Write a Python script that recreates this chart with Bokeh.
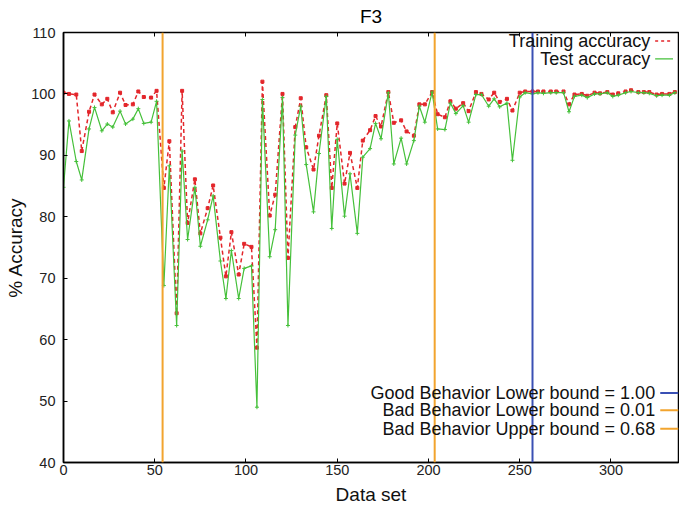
from bokeh.plotting import figure
from bokeh.models import Span, Label, Arrow, LinearAxis, Range1d, FixedTicker, CustomLabelingPolicy
from bokeh.embed import file_html
from bokeh.resources import INLINE

# ---- data ----
x_vals = [
    0, 3, 7, 10, 14, 17, 21, 24, 27, 31,
    34, 38, 41, 44, 48, 51, 55, 58, 62, 65,
    68, 72, 75, 79, 82, 86, 89, 92, 96, 99,
    103, 106, 109, 113, 116, 120, 123, 127, 130, 133,
    137, 140, 144, 147, 150, 154, 157, 161, 164, 168,
    171, 174, 178, 181, 185, 188, 192, 195, 198, 202,
    205, 209, 212, 215, 219, 222, 226, 229, 233, 236,
    239, 243, 246, 250, 253, 257, 260, 263, 267, 270,
    274, 277, 280, 284, 287, 291, 294, 298, 301, 304,
    308, 311, 315, 318, 321, 325, 328, 332, 335,
]
train_acc = [
    100.2, 100.0, 99.9, 90.7, 97.1, 99.9, 98.3, 99.2, 97.0, 100.2,
    98.2, 98.3, 100.4, 99.5, 99.4, 100.5, 84.7, 92.3, 64.3, 100.5,
    79.0, 86.1, 77.3, 81.4, 85.1, 76.6, 70.3, 77.5, 70.6, 75.6,
    75.1, 58.7, 102.0, 80.2, 83.6, 100.0, 73.3, 94.6, 99.3, 91.3,
    87.7, 93.2, 99.8, 84.7, 95.2, 85.4, 90.4, 84.7, 92.4, 94.1,
    96.4, 94.7, 100.3, 95.3, 95.7, 93.9, 93.2, 98.3, 98.3, 100.3,
    96.7, 96.2, 98.8, 97.6, 98.5, 97.2, 100.3, 100.0, 99.1, 100.2,
    98.7, 99.2, 97.3, 100.2, 100.4, 100.4, 100.4, 100.4, 100.4, 100.4,
    100.4, 98.3, 99.9, 100.0, 99.7, 100.2, 100.1, 100.3, 99.9, 100.1,
    100.4, 100.6, 100.3, 100.3, 100.3, 99.9, 100.0, 100.0, 100.3,
]
test_acc = [
    84.8, 95.6, 89.0, 86.0, 94.3, 97.8, 94.0, 95.1, 94.6, 97.2,
    95.1, 95.9, 97.6, 95.2, 95.4, 98.8, 68.8, 88.3, 62.3, 90.7,
    76.3, 84.8, 75.2, 79.5, 83.4, 72.8, 66.7, 74.5, 66.7, 71.6,
    72.0, 49.0, 99.1, 73.5, 77.9, 99.4, 62.3, 93.3, 98.0, 88.5,
    80.8, 90.3, 99.6, 78.1, 92.6, 80.1, 87.0, 77.3, 89.7, 91.1,
    95.2, 92.7, 100.2, 88.6, 92.8, 88.6, 92.4, 98.0, 95.4, 100.3,
    94.3, 94.2, 98.5, 96.8, 98.1, 95.4, 99.9, 99.9, 98.0, 99.2,
    97.9, 98.5, 89.2, 99.5, 100.2, 100.0, 100.2, 100.1, 100.2, 100.2,
    100.2, 97.1, 99.6, 99.8, 99.4, 100.0, 100.0, 100.2, 99.6, 99.8,
    100.2, 100.4, 100.2, 100.2, 100.1, 99.7, 99.8, 99.8, 100.2,
]
x_ticks = [0, 50, 100, 150, 200, 250, 300]
y_ticks = [40, 50, 60, 70, 80, 90, 100, 110]
bound_labels = [
    "Good Behavior Lower bound = 1.00",
    "Bad Behavior Lower bound = 0.01",
    "Bad Behavior Upper bound = 0.68",
]
bound_x = [257.0, 54.3, 203.4]

# ---- style ----
FONT = "Liberation Sans"
RED = "#e3262b"
GREEN = "#45c03a"
ORANGE = "#f2a42e"
BLUE = "#3a50b4"
bound_colors = [BLUE, ORANGE, ORANGE]

p = figure(width=679, height=509, x_range=Range1d(0, 337), y_range=Range1d(40, 110),
           output_backend="svg", toolbar_location=None, title="F3",
           min_border_left=63, min_border_right=1, min_border_top=32, min_border_bottom=47)
p.title.text_font = FONT
p.title.text_font_size = "19px"
p.title.text_font_style = "normal"
p.title.align = "center"
p.title.vertical_align = "top"
p.title.text_color = "black"
p.title.standoff = 0
p.xgrid.visible = False
p.ygrid.visible = False
p.outline_line_color = "black"
p.outline_line_width = 1.5
p.outline_line_alpha = 1
p.background_fill_color = "white"

for ax in (p.xaxis[0], p.yaxis[0]):
    ax.major_tick_in = 4
    ax.major_tick_out = 0
    ax.minor_tick_in = 0
    ax.minor_tick_out = 0
    ax.axis_line_width = 1.5
    ax.axis_line_color = "black"
    ax.major_tick_line_color = "black"
    ax.major_label_text_font = FONT
    ax.major_label_text_font_size = "14.5px"
    ax.major_label_text_color = "#222222"
    ax.axis_label_text_font = FONT
    ax.axis_label_text_font_size = "19px"
    ax.axis_label_text_font_style = "normal"
    ax.axis_label_text_color = "#111111"

p.xaxis[0].ticker = FixedTicker(ticks=x_ticks)
p.yaxis[0].ticker = FixedTicker(ticks=y_ticks)
p.xaxis[0].axis_label = "Data set"
p.yaxis[0].axis_label = "% Accuracy"
p.xaxis[0].major_label_standoff = 2
p.xaxis[0].axis_label_standoff = 6
p.yaxis[0].major_label_standoff = 8
p.yaxis[0].axis_label_standoff = 2

# mirrored tick marks along the top edge (no labels)
hide_all = CustomLabelingPolicy(code="for (const i of indices) indices.unset(i)")
top_axis = LinearAxis(ticker=FixedTicker(ticks=x_ticks), major_tick_in=4, major_tick_out=0,
                      minor_tick_in=0, minor_tick_out=0, major_label_text_font_size="1px",
                      major_label_policy=hide_all,
                      major_label_standoff=0, axis_line_color=None)
p.add_layout(top_axis, "above")

# data
p.line(x_vals, train_acc, line_color=RED, line_width=1.5, line_dash="4 3")
p.scatter(x_vals, train_acc, marker="square", size=3, fill_color=RED, line_color=RED)
p.line(x_vals, test_acc, line_color=GREEN, line_width=1.2)
p.scatter(x_vals, test_acc, marker="cross", size=4, line_color=GREEN, line_width=1)

# boundary lines
for bx, bc in zip(bound_x, bound_colors):
    p.add_layout(Span(location=bx, dimension="height", line_color=bc, line_width=2))

# top-right legend
p.add_layout(Label(x=321.5, y=108.6, text="Training accuracy", text_align="right",
                   text_baseline="middle", text_font=FONT, text_font_size="18px",
                   text_color="#111111"))
p.add_layout(Label(x=321.5, y=105.7, text="Test accuracy", text_align="right",
                   text_baseline="middle", text_font=FONT, text_font_size="18px",
                   text_color="#111111"))
p.add_layout(Arrow(end=None, x_start=324.2, x_end=334, y_start=108.6, y_end=108.6,
                   line_color=RED, line_width=1.5, line_dash="3 3"))
p.add_layout(Arrow(end=None, x_start=324.2, x_end=334, y_start=105.7, y_end=105.7,
                   line_color=GREEN, line_width=1.2))

# bottom-right legend
for lbl, yy, cc in zip(bound_labels, [51.3, 48.5, 45.5], bound_colors):
    p.add_layout(Label(x=324.2, y=yy, text=lbl, text_align="right", text_baseline="middle",
                       text_font=FONT, text_font_size="18px", text_color="#111111"))
    p.add_layout(Arrow(end=None, x_start=327, x_end=337, y_start=yy, y_end=yy,
                       line_color=cc, line_width=2))

open("out.html", "w").write(file_html(p, INLINE))
